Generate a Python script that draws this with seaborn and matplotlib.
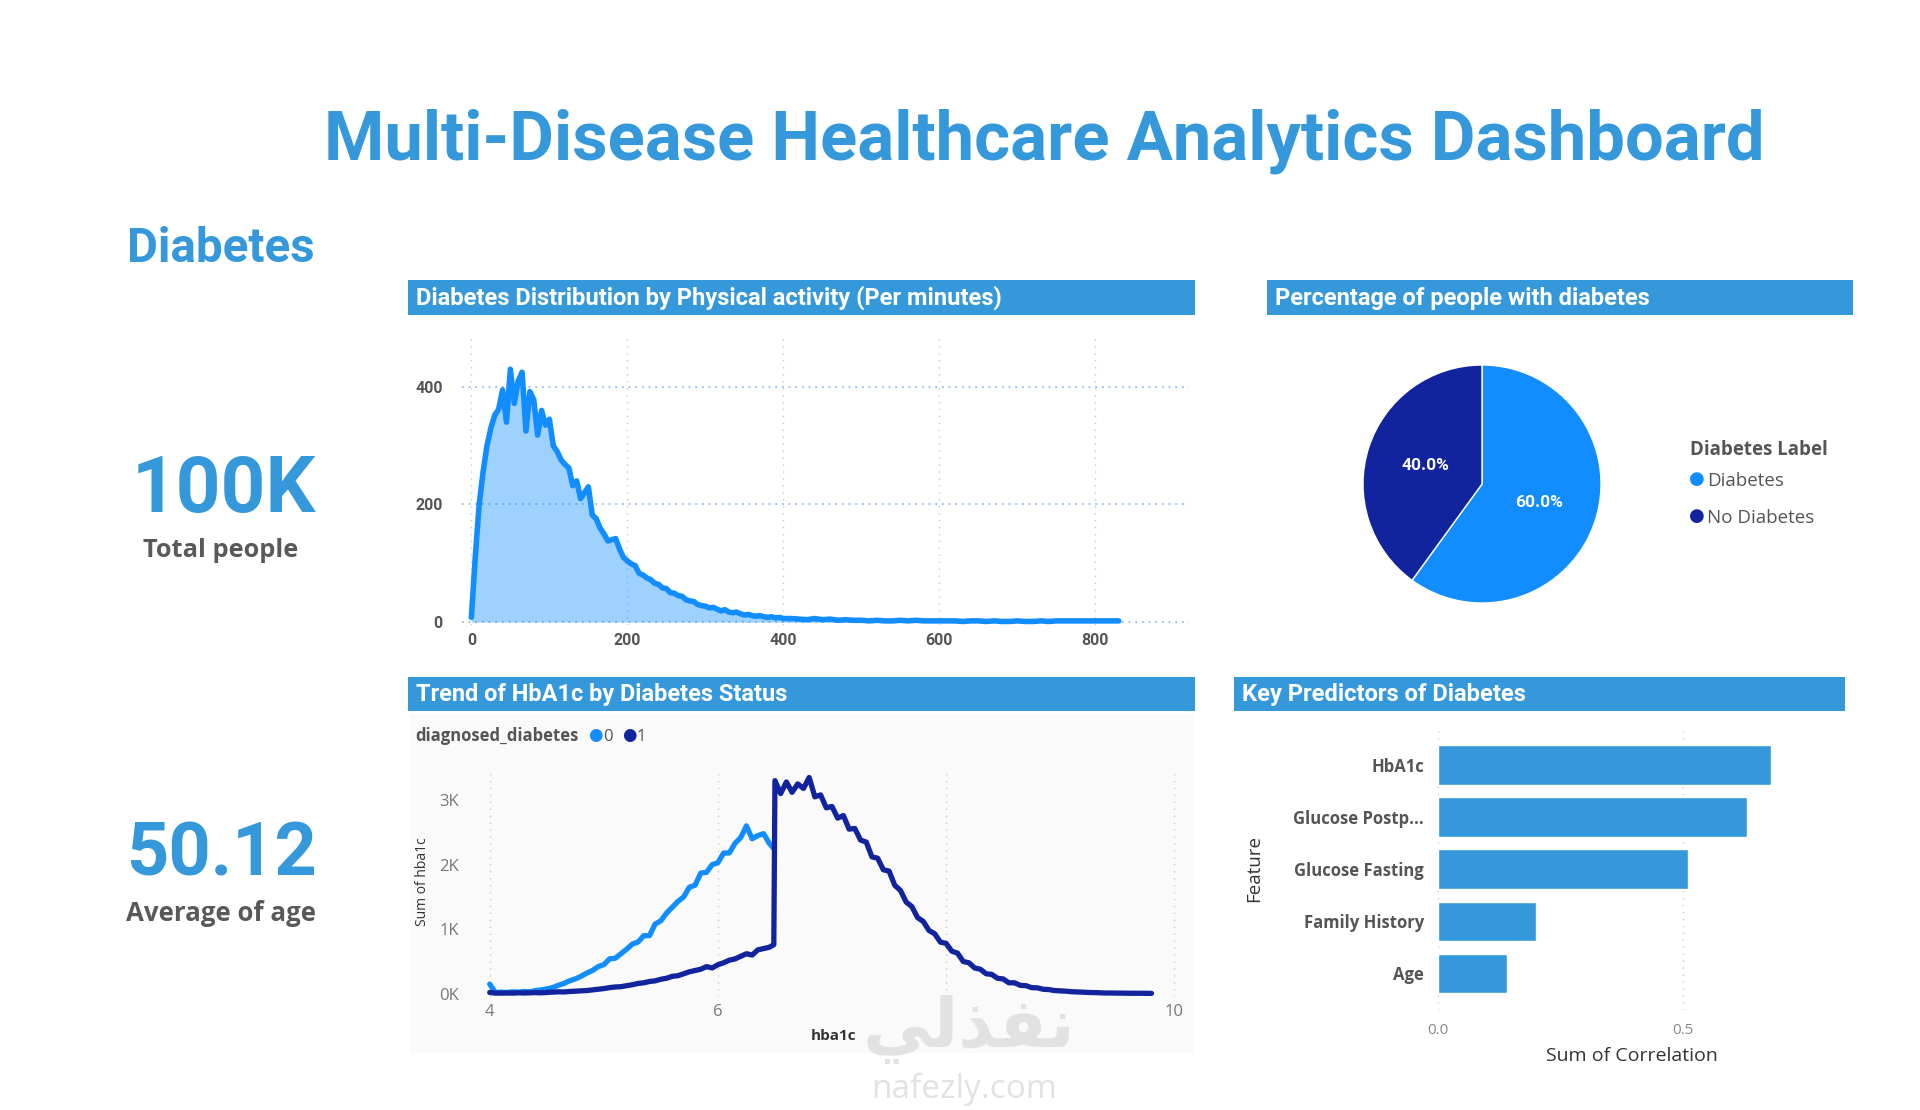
import numpy as np
import pandas as pd
import matplotlib.pyplot as plt
from matplotlib.patches import Rectangle
import seaborn as sns

# ==============================
# Data
# ==============================
total_people = "100K"
average_age = "50.12"

# physical activity (minutes) -> number of people
activity_minutes = list(range(0, 401, 5)) + list(range(410, 831, 10))
activity_counts = [
    8, 110, 200, 255, 300, 330, 352, 362, 395, 340,
    430, 372, 410, 425, 325, 392, 378, 318, 360, 335,
    345, 300, 290, 276, 268, 262, 232, 240, 210, 220,
    230, 182, 176, 160, 150, 138, 140, 142, 124, 110,
    104, 99, 96, 83, 80, 75, 72, 66, 64, 58,
    57, 50, 49, 45, 44, 38, 36, 35, 30, 28,
    27, 24, 25, 22, 19, 21, 17, 16, 17, 14,
    12, 13, 11, 10, 11, 9, 8, 9, 7, 8,
    6,
    6, 5, 4, 6, 4, 5, 3, 4, 3, 3,
    2, 3, 2, 2, 3, 2, 3, 2, 2, 2,
    2, 2, 1, 2, 2, 1, 2, 1, 1, 2,
    1, 1, 2, 1, 2, 2, 2, 2, 2, 2,
    2, 2, 2,
]

# pie
pie_labels = ["Diabetes", "No Diabetes"]
pie_values = [60.0, 40.0]

# sum of hba1c by hba1c value, per diagnosed_diabetes
hba1c_x0 = list(np.round(np.arange(4.0, 6.46, 0.05), 2)) + [6.49]
hba1c_sum0 = [
    150, 20, 25, 20, 30, 25, 35, 30, 50, 60,
    75, 95, 130, 160, 200, 230, 270, 320, 360, 420,
    450, 540, 550, 620, 690, 770, 800, 900, 900, 1080,
    1130, 1250, 1340, 1430, 1500, 1650, 1680, 1870, 1880, 2000,
    2030, 2180, 2180, 2330, 2420, 2600, 2400, 2450, 2480, 2330,
    2250,
]
hba1c_x1 = (list(np.round(np.arange(4.0, 6.46, 0.05), 2)) + [6.49]
            + list(np.round(np.arange(6.5, 9.81, 0.05), 2)))
hba1c_sum1 = [
    20, 10, 10, 12, 10, 15, 12, 15, 18, 15,
    20, 25, 30, 28, 35, 40, 45, 50, 60, 70,
    80, 95, 105, 110, 125, 140, 160, 170, 190, 200,
    225, 240, 270, 280, 310, 340, 360, 380, 420, 400,
    450, 480, 520, 540, 580, 620, 600, 680, 700, 720,
    760,
    3300, 3100, 3280, 3120, 3250, 3180, 3350, 3050, 3080, 2880,
    2900, 2720, 2760, 2550, 2560, 2380, 2350, 2120, 2100, 1920,
    1900, 1680, 1600, 1420, 1350, 1180, 1120, 980, 930, 800,
    780, 660, 630, 500, 480, 400, 380, 310, 300, 240,
    230, 170, 170, 130, 125, 95, 92, 70, 65, 50,
    45, 40, 32, 28, 25, 20, 18, 15, 12, 12,
    10, 10, 8, 8, 8, 7, 6,
]

# key predictors
features = ["HbA1c", "Glucose Postp...", "Glucose Fasting", "Family History", "Age"]
correlations = [0.68, 0.63, 0.51, 0.20, 0.14]

# ==============================
# Style
# ==============================
sns.set_theme(style="white")
NARROW = ['Roboto', 'DejaVu Sans']
UI = ['Open Sans', 'DejaVu Sans']
plt.rcParams['font.family'] = NARROW

BLUE = '#3598DB'
LIGHT = '#118DFF'
NAVY = '#12239E'
GREY = '#555555'

W, H = 1920, 1110
fig = plt.figure(figsize=(W / 100, H / 100), dpi=100)
fig.patch.set_facecolor('white')
renderer = fig.canvas.get_renderer()


def box(x0, y0, x1, y1):
    return [x0 / W, 1 - y1 / H, (x1 - x0) / W, (y1 - y0) / H]


def ftext(x, y, s, **kw):
    return fig.text(x / W, 1 - y / H, s, **kw)


def fit(t, width):
    # scale font so the text spans the same width as in the dashboard
    w = t.get_window_extent(renderer).width
    t.set_fontsize(t.get_fontsize() * width / w)
    return t


def header(x0, y0, x1, y1, title, text_w):
    fig.add_artist(Rectangle((x0 / W, 1 - y1 / H), (x1 - x0) / W, (y1 - y0) / H,
                             transform=fig.transFigure, facecolor=BLUE,
                             edgecolor='none', zorder=0))
    t = ftext(x0 + 8, y0 + 0.7 * (y1 - y0), title, color='white', fontsize=16,
              fontweight='bold', family=NARROW, va='baseline')
    fit(t, text_w)


# ==============================
# Titles and KPI cards
# ==============================
fit(ftext(1044, 160, "Multi-Disease Healthcare Analytics Dashboard", color=BLUE,
          fontsize=50, fontweight='bold', ha='center', va='baseline'), 1439)
fit(ftext(221, 262, "Diabetes", color=BLUE, fontsize=35, fontweight='bold',
          ha='center', va='baseline'), 188)
fit(ftext(224, 512, total_people, color=BLUE, fontsize=58, fontweight='bold',
          ha='center', va='baseline'), 184)
fit(ftext(221, 557, "Total people", color='#595959', fontsize=17, fontweight='bold',
          family=UI, ha='center', va='baseline'), 155)
fit(ftext(222, 876, average_age, color=BLUE, fontsize=58, fontweight='bold',
          ha='center', va='baseline'), 191)
fit(ftext(221, 921, "Average of age", color='#595959', fontsize=17, fontweight='bold',
          family=UI, ha='center', va='baseline'), 190)

header(408, 280, 1195, 315, "Diabetes Distribution by Physical activity (Per minutes)", 588)
header(1267, 280, 1853, 315, "Percentage of people with diabetes", 377)
header(408, 677, 1195, 711, "Trend of HbA1c by Diabetes Status", 371)
header(1234, 677, 1845, 711, "Key Predictors of Diabetes", 286)

# ==============================
# 1. Physical activity distribution
# ==============================
act = pd.DataFrame({"minutes": activity_minutes, "count": activity_counts})
ax1 = fig.add_axes(box(462, 334, 1189, 625))
ax1.set_facecolor('none')
ax1.fill_between(act["minutes"], act["count"], color=LIGHT, alpha=0.4, lw=0)
sns.lineplot(data=act, x="minutes", y="count", ax=ax1, color=LIGHT, lw=4)
ax1.set_xlim(-12, 920)
ax1.set_ylim(-5, 490)
ax1.set_xticks([0, 200, 400, 600, 800])
ax1.set_yticks([0, 200, 400])
ax1.set_xlabel("")
ax1.set_ylabel("")
ax1.yaxis.grid(True, linestyle=(0, (1, 3)), color='#7fb2ea', lw=1.2)
ax1.xaxis.grid(True, linestyle=(0, (1, 4)), color='#c8c8c8', lw=1)
sns.despine(ax=ax1, left=True, bottom=True)
ax1.tick_params(length=0)
ax1.tick_params(axis='y', pad=14)
ax1.tick_params(axis='x', pad=6)
plt.setp(ax1.get_xticklabels() + ax1.get_yticklabels(), family=NARROW,
         fontweight='bold', fontsize=11.5, color=GREY)

# ==============================
# 2. Pie chart
# ==============================
ax2 = fig.add_axes(box(1363, 365, 1601, 603))
wedges, _, autotexts = ax2.pie(
    pie_values, colors=[LIGHT, NAVY], startangle=90, counterclock=False,
    autopct='%.1f%%', pctdistance=0.5,
    textprops={'color': 'white', 'fontsize': 12.5, 'fontweight': 'bold', 'family': NARROW})
ax2.set_xlim(-1, 1)
ax2.set_ylim(-1, 1)
ax2.set_aspect('equal')

ftext(1690, 455, "Diabetes Label", color=GREY, fontsize=13.5, fontweight='bold',
      family=UI, va='baseline')
for i, (lab, col) in enumerate(zip(pie_labels, [LIGHT, NAVY])):
    yb = 486 + 37 * i
    ftext(1697, yb - 7, "\u25CF", color=col, fontsize=13, family=['DejaVu Sans'],
          ha='center', va='center')
    ftext(1707, yb, lab, color=GREY, fontsize=13.5, family=UI, va='baseline')

# ==============================
# 3. HbA1c trend by diabetes status
# ==============================
fig.add_artist(Rectangle((410 / W, 1 - 1053 / H), 784 / W, 339 / H,
                         transform=fig.transFigure, facecolor='#fafafa',
                         edgecolor='none', zorder=0))
hb = pd.concat([
    pd.DataFrame({"hba1c": hba1c_x0, "sum": hba1c_sum0, "diagnosed_diabetes": 0}),
    pd.DataFrame({"hba1c": hba1c_x1, "sum": hba1c_sum1, "diagnosed_diabetes": 1}),
])
ax3 = fig.add_axes(box(484, 771, 1180, 997))
ax3.set_facecolor('none')
sns.lineplot(data=hb, x="hba1c", y="sum", hue="diagnosed_diabetes",
             palette={0: LIGHT, 1: NAVY}, lw=3.8, legend=False, ax=ax3)
ax3.set_xlim(3.95, 10.05)
ax3.set_ylim(-50, 3450)
ax3.set_xticks([4, 6, 8, 10])
ax3.set_yticks([0, 1000, 2000, 3000])
ax3.set_yticklabels(["0K", "1K", "2K", "3K"])
ax3.xaxis.grid(True, linestyle=(0, (1, 4)), color='#c8c8c8', lw=1)
ax3.yaxis.grid(False)
sns.despine(ax=ax3, left=True, bottom=True)
ax3.tick_params(length=0)
ax3.tick_params(axis='y', pad=18)
ax3.tick_params(axis='x', pad=5)
plt.setp(ax3.get_xticklabels() + ax3.get_yticklabels(), family=UI,
         fontsize=12, color='#777777')
ax3.set_xlabel("")
ax3.set_ylabel("")
ftext(833, 1036, "hba1c", color='#333333', fontsize=11, fontweight='bold',
      family=UI, ha='center', va='center')
ftext(422, 882, "Sum of hba1c", color='#333333', fontsize=10, family=UI,
      rotation=90, ha='center', va='center')

ftext(415, 741, "diagnosed_diabetes", color=GREY, fontsize=12, fontweight='bold',
      family=UI, va='baseline')
for lab, col, xc in [("0", LIGHT, 595), ("1", NAVY, 629)]:
    ftext(xc, 735, "\u25CF", color=col, fontsize=12, family=['DejaVu Sans'],
          ha='center', va='center')
    ftext(xc + 8, 741, lab, color=GREY, fontsize=12, family=UI, va='baseline')

# ==============================
# 4. Key predictors
# ==============================
ax4 = fig.add_axes(box(1438, 731, 1820, 1010))
ax4.set_facecolor('none')
sns.barplot(x=correlations, y=features, orient='h', color=BLUE, saturation=1,
            width=0.76, ax=ax4)
ax4.set_xlim(0, 0.78)
ax4.set_ylim(4.7, -0.65)
ax4.set_xticks([0.0, 0.5])
ax4.set_xticklabels(["0.0", "0.5"])
ax4.xaxis.grid(True, linestyle=(0, (1, 4)), color='#c8c8c8', lw=1)
ax4.set_axisbelow(True)
sns.despine(ax=ax4, left=True, bottom=True)
ax4.tick_params(length=0)
ax4.tick_params(axis='y', pad=10)
ax4.tick_params(axis='x', pad=9)
plt.setp(ax4.get_yticklabels(), family=UI, fontweight='bold', fontsize=12, color=GREY)
plt.setp(ax4.get_xticklabels(), family=UI, fontsize=11, color='#888888')
ax4.set_xlabel("")
ax4.set_ylabel("")
ftext(1632, 1056, "Sum of Correlation", color='#333333', fontsize=14, family=UI,
      ha='center', va='center')
ftext(1254, 869, "Feature", color='#333333', fontsize=13.5, family=UI,
      rotation=90, ha='center', va='center')

# ==============================
# Watermark
# ==============================
ftext(863, 1030, "\uFEF2\uFEDF\uFEAC\uFED4\uFEE7", color='#e2e2e2', fontsize=50,
      fontweight='bold', family=['DejaVu Sans'], ha='left', va='center', zorder=10)
ftext(964, 1089, "nafezly.com", color='#e2e2e2', fontsize=24,
      family=UI, ha='center', va='center', zorder=10)

fig.savefig("out.png", dpi=100)
